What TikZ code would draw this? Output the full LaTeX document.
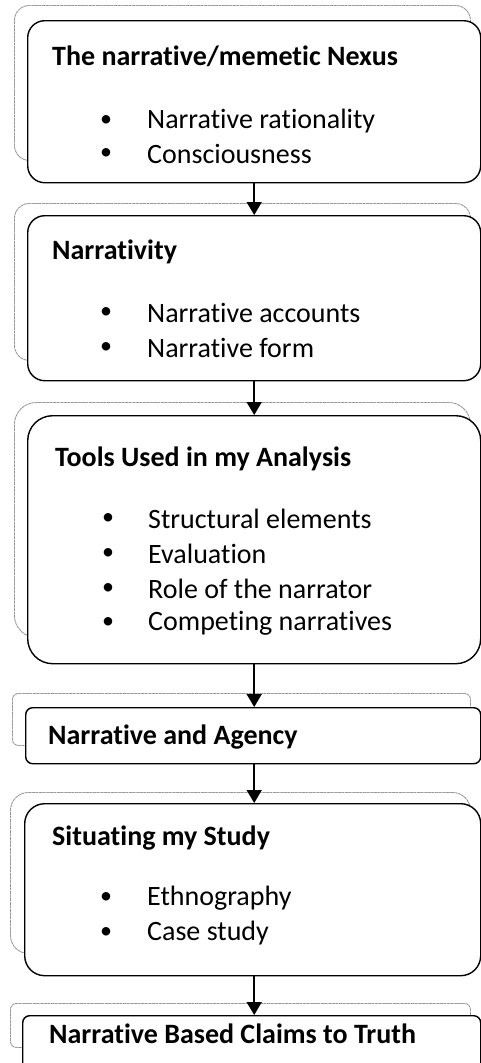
\documentclass[tikz,border=0pt]{standalone}
\usepackage{fontspec}
\setmainfont{Carlito}[Ligatures=NoCommon]
\usepackage{tikz}
\usetikzlibrary{arrows.meta}
\tikzstyle{mainbox}=[draw=black,fill=white,line width=1.4pt,inner sep=0pt,anchor=north west]
\tikzstyle{backbox}=[draw=black!40,line width=0.9pt,dash pattern=on 3pt off 0.6pt,inner sep=0pt,anchor=north west]
\tikzstyle{head}=[anchor=west,inner sep=0pt,font=\fontsize{28}{32}\selectfont\bfseries]
\tikzstyle{item}=[anchor=west,inner sep=0pt,font=\fontsize{28}{32}\selectfont]
\tikzstyle{dot}=[inner sep=0pt,font=\fontsize{24}{28}\selectfont]

\begin{document}
\begin{tikzpicture}[x=1pt,y=-1pt,>={Triangle[length=13pt,width=15pt]}]
	\clip (0,0) rectangle (481,1063);
	\fill[white] (0,0) rectangle (481,1063);

	% nexus
	\node[backbox,rounded corners=15pt,minimum width=456pt,minimum height=155pt] (nexusb) at (14,5) {};
	\node[mainbox,rounded corners=17pt,minimum width=453pt,minimum height=162pt] (nexus) at (27,20) {};
	\node[head] (nexush) at (52,56) {The narrative/memetic Nexus};
	\node[dot] (nexusd1) at (106,121) {•};
	\node[item] (nexusi1) at (147,121) {Narrative rationality};
	\node[dot] (nexusd2) at (106,154) {•};
	\node[item] (nexusi2) at (147,154) {Consciousness};

	% narrativity
	\node[backbox,rounded corners=15pt,minimum width=456pt,minimum height=157pt] (narrb) at (14,203) {};
	\node[mainbox,rounded corners=17pt,minimum width=453pt,minimum height=165pt] (narr) at (27,215) {};
	\node[head] (narrh) at (52,252) {Narrativity};
	\node[dot] (narrd1) at (106,313) {•};
	\node[item] (narri1) at (147,313) {Narrative accounts};
	\node[dot] (narrd2) at (106,348) {•};
	\node[item] (narri2) at (147,348) {Narrative form};

	% tools
	\node[backbox,rounded corners=22pt,minimum width=456pt,minimum height=235pt] (toolsb) at (14,402) {};
	\node[mainbox,rounded corners=25pt,minimum width=453pt,minimum height=248pt] (tools) at (27,415) {};
	\node[head] (toolsh) at (55,459) {Tools Used in my Analysis};
	\node[dot] (toolsd1) at (108,519) {•};
	\node[item] (toolsi1) at (148,519) {Structural elements};
	\node[dot] (toolsd2) at (108,554) {•};
	\node[item] (toolsi2) at (148,554) {Evaluation};
	\node[dot] (toolsd3) at (108,589) {•};
	\node[item] (toolsi3) at (148,589) {Role of the narrator};
	\node[dot] (toolsd4) at (108,623) {•};
	\node[item] (toolsi4) at (148,623) {Competing narratives};

	% agency
	\node[backbox,rounded corners=6pt,minimum width=458pt,minimum height=52pt] (agencyb) at (12,693) {};
	\node[mainbox,rounded corners=7pt,minimum width=455pt,minimum height=56pt] (agency) at (25,707) {};
	\node[head] (agencyh) at (48,737) {Narrative and Agency};

	% situating
	\node[backbox,rounded corners=18pt,minimum width=460pt,minimum height=161pt] (studyb) at (10,792) {};
	\node[mainbox,rounded corners=20pt,minimum width=456pt,minimum height=172pt] (study) at (24,803) {};
	\node[head] (studyh) at (52,838) {Situating my Study};
	\node[dot] (studyd1) at (106,898) {•};
	\node[item] (studyi1) at (147,898) {Ethnography};
	\node[dot] (studyd2) at (106,933) {•};
	\node[item] (studyi2) at (147,933) {Case study};

	% claims
	\node[backbox,rounded corners=6pt,minimum width=460pt,minimum height=44pt] (claimsb) at (10,1003) {};
	\node[mainbox,rounded corners=7pt,minimum width=458pt,minimum height=70pt] (claims) at (22,1015) {};
	\node[head] (claimsh) at (49,1034) {Narrative Based Claims to Truth};

	\draw[->,line width=1.6pt] (nexus.south) -- (nexus.south |- narr.north);
	\draw[->,line width=1.6pt] (nexus.south |- narr.south) -- (nexus.south |- tools.north);
	\draw[->,line width=1.6pt] (nexus.south |- tools.south) -- (nexus.south |- agency.north);
	\draw[->,line width=1.6pt] (nexus.south |- agency.south) -- (nexus.south |- study.north);
	\draw[->,line width=1.6pt] (nexus.south |- study.south) -- (nexus.south |- claims.north);
\end{tikzpicture}
\end{document}
